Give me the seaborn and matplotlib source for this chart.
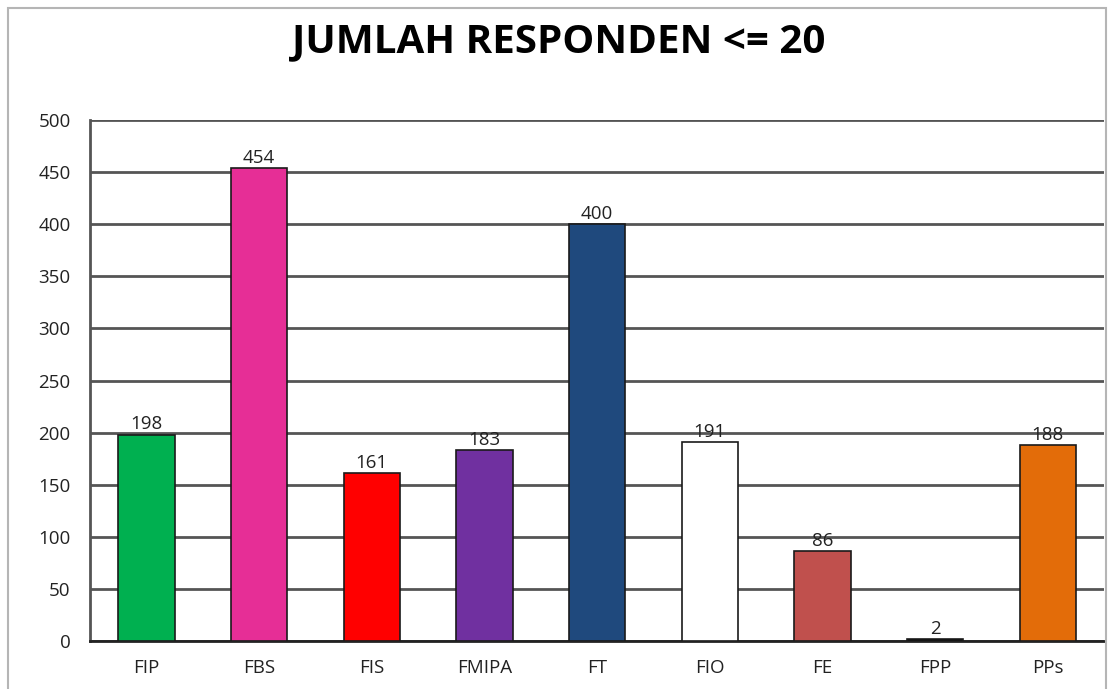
import pandas as pd
import matplotlib.pyplot as plt
import seaborn as sns
from matplotlib.patches import Rectangle

fakultas = ['FIP', 'FBS', 'FIS', 'FMIPA', 'FT', 'FIO', 'FE', 'FPP', 'PPs']
jumlah = [198, 454, 161, 183, 400, 191, 86, 2, 188]
warna = ['#00b050', '#e62e96', '#ff0000', '#7030a0', '#1f497d',
         '#ffffff', '#c0504d', '#000000', '#e36c09']


def main():
    df = pd.DataFrame({'Fakultas': fakultas, 'Jumlah': jumlah})

    sns.set_style('white')
    plt.rcParams['font.family'] = ['Open Sans', 'DejaVu Sans']

    fig = plt.figure(figsize=(11.18, 6.89), dpi=100)
    ax = fig.add_axes([0.0805, 0.0697, 0.907, 0.756])

    sns.barplot(data=df, x='Fakultas', y='Jumlah', hue='Fakultas',
                palette=dict(zip(fakultas, warna)), legend=False, saturation=1,
                width=0.5, edgecolor='#1a1a1a', linewidth=1.2, ax=ax, zorder=3)

    for c in ax.containers:
        ax.bar_label(c, padding=1, fontsize=13.5, color='#222222')

    ax.set_ylim(0, 500)
    ax.set_yticks(range(0, 501, 50))
    ax.set_xlim(-0.5, len(fakultas) - 0.5)
    ax.yaxis.grid(True, color='#555555', linewidth=2, zorder=0)
    ax.set_axisbelow(True)
    for s in ['top', 'right']:
        ax.spines[s].set_visible(False)
    ax.spines['left'].set_color('#555555')
    ax.spines['left'].set_linewidth(2)
    ax.spines['bottom'].set_color('#222222')
    ax.spines['bottom'].set_linewidth(2)
    ax.tick_params(axis='both', length=0, labelsize=13.5, colors='#222222')
    ax.tick_params(axis='y', pad=14)
    ax.tick_params(axis='x', pad=13)
    ax.set_xlabel('')
    ax.set_ylabel('')

    fig.text(0.5, 0.94, 'JUMLAH RESPONDEN <= 20', ha='center', va='center',
             fontsize=29, fontweight='bold', color='black')

    fig.patches.append(Rectangle((8 / 1118, -0.1), 1098 / 1118, 1.1 - 8 / 689,
                                 transform=fig.transFigure, fill=False,
                                 edgecolor='#b5b5b5', linewidth=1.5))

    fig.savefig('out.png', dpi=100)


if __name__ == "__main__":
    main()
